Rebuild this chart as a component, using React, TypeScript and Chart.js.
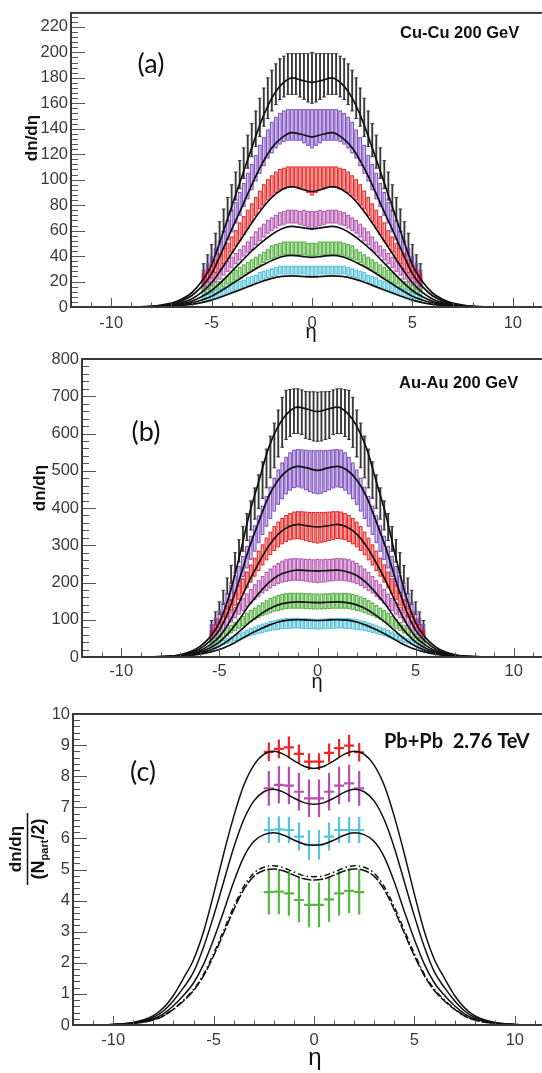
import React, { useEffect, useRef } from 'react';
import { Chart, registerables } from 'chart.js';

Chart.register(...registerables);

// ---------------- data ----------------
const etaData = [-5.4,-5.2,-5.0,-4.8,-4.6,-4.4,-4.2,-4.0,-3.8,-3.6,-3.4,-3.2,-3.0,-2.8,-2.6,-2.4,-2.2,-2.0,-1.8,-1.6,-1.4,-1.2,-1.0,-0.8,-0.6,-0.4,-0.2,0,0.2,0.4,0.6,0.8,1.0,1.2,1.4,1.6,1.8,2.0,2.2,2.4,2.6,2.8,3.0,3.2,3.4,3.6,3.8,4.0,4.2,4.4,4.6,4.8,5.0,5.2,5.4];
const etaCurve = [-12,-10,-9,-8,-7.5,-7,-6.5,-6,-5.5,-5,-4.5,-4,-3.5,-3,-2.5,-2,-1.5,-1,-0.5,0,0.5,1,1.5,2,2.5,3,3.5,4,4.5,5,5.5,6,6.5,7,7.5,8,9,10,12];
const etaPbPb = [-2.25,-1.75,-1.25,-0.75,-0.25,0.25,0.75,1.25,1.75,2.25];
const pbEtaHalfBin = [0.25,0.25,0.25,0.25,0.25,0.25,0.25,0.25,0.25,0.25];

const xTickValues = [-10,-5,0,5,10];
const cuYTicks = [0,20,40,60,80,100,120,140,160,180,200,220];
const auYTicks = [0,100,200,300,400,500,600,700,800];
const pbYTicks = [0,1,2,3,4,5,6,7,8,9,10];

// Cu-Cu 200 GeV data (dn/deta) and errors
const cuBlack = [27,34,42,50,59,68,77,86,95,104,113,122,131,140,149,157,164,170,175,179,181,183,183,183,182,181,180,180,180,181,182,183,183,183,181,179,175,170,164,157,149,140,131,122,113,104,95,86,77,68,59,50,42,34,27];
const cuBlackErr = [7,7,7,8,8,9,9,10,11,11,12,13,13,14,15,15,16,16,16,16,16,16,16,16,17,18,19,20,19,18,17,16,16,16,16,16,16,16,16,15,15,14,13,13,12,11,11,10,9,9,8,8,7,7,7];
const cuPurple = [23,28,34,40,46,53,60,67,74,81,88,95,102,109,116,122,128,133,137,140,142,143,143,143,143,142,141,140,141,142,143,143,143,143,142,140,137,133,128,122,116,109,102,95,88,81,74,67,60,53,46,40,34,28,23];
const cuPurpleErr = [6,6,6,6,6,7,7,8,8,9,9,10,10,10,11,11,11,12,12,12,12,12,12,12,12,13,14,15,14,13,12,12,12,12,12,12,12,12,11,11,11,10,10,10,9,9,8,8,7,7,6,6,6,6,6];
const cuRed = [21,24,28,32,36,40,44,49,54,59,64,69,74,79,84,88,92,95,98,100,101,102,102,102,102,101,100,99,100,101,102,102,102,102,101,100,98,95,92,88,84,79,74,69,64,59,54,49,44,40,36,32,28,24,21];
const cuRedErr = [5,5,5,5,6,6,6,6,6,7,7,7,7,7,7,8,8,8,8,8,8,8,8,8,8,9,10,11,10,9,8,8,8,8,8,8,8,8,8,8,7,7,7,7,7,7,6,6,6,6,6,5,5,5,5];
const cuMagenta = [15,17,20,23,26,29,32,35,38,41,44,47,50,54,57,60,63,65,67,69,70,71,71,71,70,70,69,68,69,70,70,71,71,71,70,69,67,65,63,60,57,54,50,47,44,41,38,35,32,29,26,23,20,17,15];
const cuMagentaErr = [3,3,3,3, 4,4,4,4,4,4,4,4, 5,5,5,5,5,5,5,5,5,5,5,5,5, 6,6,7,6,6, 5,5,5,5,5,5,5,5,5,5,5,5,5, 4,4,4,4,4,4,4,4, 3,3,3,3];
const cuGreen = [12,13,14,16,17,19,21,23,25,27,29,31,33,35,37,39,41,43,44,45,46,46,46,46,46,46,45,45,45,46,46,46,46,46,46,45,44,43,41,39,37,35,33,31,29,27,25,23,21,19,17,16,14,13,12];
const cuGreenErr = [3,3,3,3,3,3,3, 4,4,4,4,4,4,4,4,4,4, 5,5,5,5,5,5,5,5,5,5,5,5,5,5,5,5,5,5,5,5,5, 4,4,4,4,4,4,4,4,4,4, 3,3,3,3,3,3,3];
const cuCyan = [7,8,9,10,11,12,13,15,16,17,18,20,21,22,24,25,26,27,28,29,29,29,29,29,29,29,28,28,28,29,29,29,29,29,29,29,28,27,26,25,24,22,21,20,18,17,16,15,13,12,11,10,9,8,7];
const cuCyanErr = [3,3,3,3,3,3,3,3,3,3,3,3,3,3,3,3,3,3,3,3,3,3,3,3,3,3,4,4,4,3,3,3,3,3,3,3,3,3,3,3,3,3,3,3,3,3,3,3,3,3,3,3,3,3,3];

// Cu-Cu model curves
const cuCurve1 = [0,0,0.1,0.6,1.5,3,6,11,20,33,55,79,102,125,147,164,175,180,178,176.5,178,180,175,164,147,125,102,79,55,33,20,11,6,3,1.5,0.6,0.1,0,0];
const cuCurve2 = [0,0,0.08,0.5,1.2,2.4,4.8,8.8,16,26,43,61,78,96,112,125,133,137,135.5,133.7,135.5,137,133,125,112,96,78,61,43,26,16,8.8,4.8,2.4,1.2,0.5,0.08,0,0];
const cuCurve3 = [0,0,0.06,0.4,0.9,1.8,3.5,6.3,11.5,19,30,42,54,66,77,86,92,94.5,92.5,90.6,92.5,94.5,92,86,77,66,54,42,30,19,11.5,6.3,3.5,1.8,0.9,0.4,0.06,0,0];
const cuCurve4 = [0,0,0.05,0.3,0.7,1.3,2.5,4.5,8,13,20,28,36,44,51,57,61.5,63.3,62.3,61.4,62.3,63.3,61.5,57,51,44,36,28,20,13,8,4.5,2.5,1.3,0.7,0.3,0.05,0,0];
const cuCurve5 = [0,0,0.04,0.2,0.5,1,1.8,3.2,5.5,8.5,13,18,23,28,32.5,36.5,39.5,40.6,39.8,39,39.8,40.6,39.5,36.5,32.5,28,23,18,13,8.5,5.5,3.2,1.8,1,0.5,0.2,0.04,0,0];
const cuCurve6 = [0,0,0.03,0.15,0.35,0.7,1.2,2.1,3.5,5.4,8,11,14,17,20,22.5,24,24.5,24,23.6,24,24.5,24,22.5,20,17,14,11,8,5.4,3.5,2.1,1.2,0.7,0.35,0.15,0.03,0,0];

// Au-Au 200 GeV data
const auBlack = [80,104,131,160,191,222,253,285,317,349,380,412,444,475,506,537,568,600,630,650,655,660,660,657,650,648,646,645,646,648,650,657,660,660,655,650,630,600,568,537,506,475,444,412,380,349,317,285,253,222,191,160,131,104,80];
const auBlackErr = [18,17,17,19,21,24,27,30,33,36,39,42,45,49,52,56,60,63,67,66,63,60,60,60,63,64,66,66,66,64,63,60,60,60,63,66,67,63,60,56,52,49,45,42,39,36,33,30,27,24,21,19,17,17,18];
const auPurple = [71,87,106,127,149,172,195,218,243,268,293,318,343,367,391,414,436,456,473,487,498,505,507,505,502,499,497,496,497,499,502,505,507,505,498,487,473,456,436,414,391,367,343,318,293,268,243,218,195,172,149,127,106,87,71];
const auPurpleErr = [16,17,18,19,20,21,23,25,27,29,31,34,36,38,40,42,44,46,48,49,50,50,50,51,53,55,57,58,57,55,53,51,50,50,50,49,48,46,44,42,40,38,36,34,31,29,27,25,23,21,20,19,18,17,16];
const auRed = [60,75,90,106,122,139,156,173,190,207,224,241,258,274,290,305,318,329,338,345,350,353,354,353,351,349,348,347,348,349,351,353,354,353,350,345,338,329,318,305,290,274,258,241,224,207,190,173,156,139,122,106,90,75,60];
const auRedErr = [11,11,12,13,14,15,17,18,20,21,23,24,26,27,29,30,32,33,34,35,35,36,36,37,38,39,40,41,40,39,38,37,36,36,35,35,34,33,32,30,29,27,26,24,23,21,20,18,17,15,14,13,12,11,11];
const auMagenta = [50,60,71,83,95,107,119,130,141,152,163,174,184,194,203,211,218,224,229,232,234,235,235,234,233,232,231,231,231,232,233,234,235,235,234,232,229,224,218,211,203,194,184,174,163,152,141,130,119,107,95,83,71,60,50];
const auMagentaErr = [9,9,10,11,12,13,14,15,16,17,18,20,21,22,24,25,26,27,28,29,29,29,29,29,29,30,30,31,30,30,29,29,29,29,29,29,28,27,26,25,24,22,21,20,18,17,16,15,14,13,12,11,10,9,9];
const auGreen = [37,44,52,61,68,75,82,89,96,103,110,116,122,128,133,138,142,145,148,150,151,151,151,151,150,150,149,149,149,150,150,151,151,151,151,150,148,145,142,138,133,128,122,116,110,103,96,89,82,75,68,61,52,44,37];
const auGreenErr = [8,8,8,9,10,10,11,12,13,14,15,15,16,17,18,19,19, 20,20,20,20,20, 20,20,20,20,20, 20,20,20,20,20, 20,20,20,20,20, 20, 19,19,18,17,16,15,15,14,13,12,11,10,10,9,8,8,8];
const auCyan = [24,29,34,39,43,47,51,55,59,63,67,70,74,77,80,83,85,87,89,90,90,91,91,90,90,89,89,88,89,89,90,90,91,91,90,90,89,87,85,83,80,77,74,70,67,63,59,55,51,47,43,39,34,29,24];
const auCyanErr = [5,5,6,6,6,7,7,8,8,9,9,10,10,11,11,12,12, 13,13,13,13,13, 13,13,13,13,13, 13,13,13,13,13, 13,13,13,13,13, 13, 12,12,11,11,10,10,9,9,8,8,7,7,6,6,6,5,5];

// Au-Au model curves
const auCurve1 = [0,0.02,0.2,1,2.5,6,14,28,52,92,165,265,378,470,560,620,656,671,665,659,665,671,656,620,560,470,378,265,165,92,52,28,14,6,2.5,1,0.2,0.02,0];
const auCurve2 = [0,0.02,0.15,0.8,2,4.8,11,22,42,72,128,204,290,362,430,475,502,512,507,501,507,512,502,475,430,362,290,204,128,72,42,22,11,4.8,2,0.8,0.15,0.02,0];
const auCurve3 = [0,0.01,0.12,0.6,1.6,3.8,8.5,17,32,54,93,145,202,252,297,330,349,356,352,349,352,356,349,330,297,252,202,145,93,54,32,17,8.5,3.8,1.6,0.6,0.12,0.01,0];
const auCurve4 = [0,0.01,0.1,0.5,1.3,3,6.5,13,24,40,66,100,138,170,199,219,229,233,232,231,232,233,229,219,199,170,138,100,66,40,24,13,6.5,3,1.3,0.5,0.1,0.01,0];
const auCurve5 = [0,0.01,0.08,0.4,1,2.3,5,10,18,29,46,68,91,111,128,140,146,148,147,146,147,148,146,140,128,111,91,68,46,29,18,10,5,2.3,1,0.4,0.08,0.01,0];
const auCurve6 = [0,0.01,0.06,0.3,0.8,1.8,3.8,7.5,13,20,31,45,60,73,85,94,99,100,99,98,99,100,99,94,85,73,60,45,31,20,13,7.5,3.8,1.8,0.8,0.3,0.06,0.01,0];

// Pb+Pb 2.76 TeV data (dn/deta / (Npart/2))
const pbRed = [8.78,8.88,8.93,8.72,8.47,8.47,8.75,8.9,8.98,8.77];
const pbRedErr = [0.3,0.3,0.35,0.3,0.27,0.27,0.3,0.3,0.35,0.3];
const pbMagenta = [7.61,7.72,7.7,7.5,7.29,7.29,7.5,7.7,7.77,7.61];
const pbMagentaErr = [0.56,0.6,0.6,0.6,0.6,0.6,0.6,0.6,0.6,0.56];
const pbCyan = [6.27,6.29,6.27,6.06,5.79,5.79,6.06,6.27,6.27,6.27];
const pbCyanErr = [0.42,0.42,0.42,0.45,0.48,0.48,0.45,0.42,0.42,0.42];
const pbGreen = [4.27,4.29,4.23,4.02,3.86,3.86,4.04,4.23,4.31,4.27];
const pbGreenErr = [0.72,0.72,0.72,0.72,0.72,0.72,0.72,0.72,0.72,0.72];

// Pb+Pb model curves
const pbCurve1 = [0,0.02,0.08,0.3,0.55,0.95,1.5,2.1,3.0,4.2,5.5,6.7,7.7,8.35,8.7,8.8,8.7,8.5,8.32,8.25,8.32,8.5,8.7,8.8,8.7,8.35,7.7,6.7,5.5,4.2,3.0,2.1,1.5,0.95,0.55,0.3,0.08,0.02,0];
const pbCurve2 = [0,0.02,0.07,0.25,0.45,0.78,1.2,1.7,2.5,3.5,4.6,5.7,6.6,7.2,7.5,7.58,7.48,7.3,7.15,7.1,7.15,7.3,7.48,7.58,7.5,7.2,6.6,5.7,4.6,3.5,2.5,1.7,1.2,0.78,0.45,0.25,0.07,0.02,0];
const pbCurve3 = [0,0.02,0.06,0.2,0.36,0.62,0.95,1.35,1.95,2.75,3.65,4.6,5.4,5.9,6.12,6.18,6.1,5.95,5.82,5.78,5.82,5.95,6.1,6.18,6.12,5.9,5.4,4.6,3.65,2.75,1.95,1.35,0.95,0.62,0.36,0.2,0.06,0.02,0];
const pbCurve4 = [0,0.01,0.05,0.16,0.29,0.5,0.77,1.1,1.58,2.22,2.95,3.7,4.35,4.78,4.97,5.02,4.95,4.82,4.7,4.66,4.7,4.82,4.95,5.02,4.97,4.78,4.35,3.7,2.95,2.22,1.58,1.1,0.77,0.5,0.29,0.16,0.05,0.01,0];
const pbCurve5 = [0,0.01,0.05,0.17,0.3,0.52,0.8,1.14,1.63,2.29,3.04,3.8,4.45,4.88,5.07,5.12,5.05,4.92,4.8,4.77,4.8,4.92,5.05,5.12,5.07,4.88,4.45,3.8,3.04,2.29,1.63,1.14,0.8,0.52,0.3,0.17,0.05,0.01,0];

// ---------------- styling ----------------
const SANS = "'Liberation Sans', Arial, sans-serif";
const COL = {
  black: 'rgba(40,40,40,0.92)',
  purple: '#7b4cc0',
  red: '#f01c1c',
  magenta: '#b24fae',
  green: '#4fad3b',
  cyan: '#4cbfd7',
};

function pts(xs: number[], ys: number[]) {
  return xs.map((x, i) => ({ x, y: ys[i] }));
}

function dataSet(vals: number[], errs: number[], color: string, style: string, xs = etaData, xErr?: number[]) {
  return {
    data: pts(xs, vals),
    showLine: false,
    pointRadius: 0,
    yErr: errs,
    xErr,
    errColor: color,
    errStyle: style,
  };
}

function curveSet(vals: number[], dash: number[] = [], width = 1.7) {
  return {
    data: pts(etaCurve, vals),
    showLine: true,
    pointRadius: 0,
    borderColor: '#111',
    borderWidth: width,
    borderDash: dash,
    cubicInterpolationMode: 'monotone',
    fill: false,
  };
}

// ---------------- plugins ----------------
const errorBarPlugin = {
  id: 'errorBars',
  beforeDatasetsDraw(chart: any) {
    const { ctx, chartArea: a } = chart;
    const xs = chart.scales.x;
    const ys = chart.scales.y;
    ctx.save();
    ctx.beginPath();
    ctx.rect(a.left, a.top, a.right - a.left, a.bottom - a.top);
    ctx.clip();
    for (const ds of chart.data.datasets as any[]) {
      if (!ds.yErr) continue;
      ctx.strokeStyle = ds.errColor;
      ctx.fillStyle = ds.errColor;
      ds.data.forEach((p: any, i: number) => {
        const px = xs.getPixelForValue(p.x);
        const yT = ys.getPixelForValue(p.y + ds.yErr[i]);
        const yB = ys.getPixelForValue(p.y - ds.yErr[i]);
        if (ds.errStyle === 'box') {
          ctx.globalAlpha = 0.3;
          ctx.fillRect(px - 1.3, yT, 2.6, yB - yT);
          ctx.globalAlpha = 0.95;
          ctx.lineWidth = 1.1;
          ctx.strokeRect(px - 1.3, yT, 2.6, yB - yT);
          ctx.globalAlpha = 1;
        } else if (ds.errStyle === 'bar') {
          ctx.lineWidth = 1.9;
          ctx.beginPath();
          ctx.moveTo(px, yT);
          ctx.lineTo(px, yB);
          ctx.stroke();
          ctx.lineWidth = 1;
          ctx.beginPath();
          ctx.moveTo(px - 1.8, yT);
          ctx.lineTo(px + 1.8, yT);
          ctx.moveTo(px - 1.8, yB);
          ctx.lineTo(px + 1.8, yB);
          ctx.stroke();
        } else if (ds.errStyle === 'cross') {
          const xl = xs.getPixelForValue(p.x - ds.xErr[i]);
          const xr = xs.getPixelForValue(p.x + ds.xErr[i]);
          const py = ys.getPixelForValue(p.y);
          ctx.lineWidth = 2.2;
          ctx.beginPath();
          ctx.moveTo(px, yT);
          ctx.lineTo(px, yB);
          ctx.moveTo(xl, py);
          ctx.lineTo(xr, py);
          ctx.stroke();
        }
      });
    }
    ctx.restore();
  },
};

function axesPlugin(spec: any) {
  return {
    id: 'rootAxes',
    afterDraw(chart: any) {
      const { ctx, chartArea: a } = chart;
      const xs = chart.scales.x;
      const ys = chart.scales.y;
      ctx.save();
      ctx.strokeStyle = '#555';
      ctx.lineWidth = 1;
      ctx.beginPath();
      const nx = Math.round((xs.max - xs.min) / spec.xMinor);
      for (let k = 0; k <= nx; k++) {
        const v = xs.min + k * spec.xMinor;
        const px = Math.round(xs.getPixelForValue(v)) + 0.5;
        const major = xTickValues.some((t) => Math.abs(t - v) < 1e-6);
        const len = major ? 9 : 4.5;
        ctx.moveTo(px, a.bottom);
        ctx.lineTo(px, a.bottom - len);
      }
      const ny = Math.floor((ys.max - ys.min) / spec.yMinor + 1e-6);
      for (let k = 0; k <= ny; k++) {
        const v = ys.min + k * spec.yMinor;
        const py = Math.round(ys.getPixelForValue(v)) + 0.5;
        const major = spec.yTicks.some((t: number) => Math.abs(t - v) < 1e-6);
        const len = major ? 14 : 7;
        ctx.moveTo(a.left, py);
        ctx.lineTo(a.left + len, py);
      }
      ctx.stroke();
      ctx.strokeStyle = '#3a3a3a';
      ctx.lineWidth = 2;
      ctx.strokeRect(a.left, a.top, a.right - a.left, a.bottom - a.top);
      ctx.restore();
      ctx.save();
      spec.annotate(ctx);
      ctx.restore();
    },
  };
}

// ---------------- text ----------------
function drawRotated(ctx: CanvasRenderingContext2D, text: string, x: number, y: number, font: string) {
  ctx.save();
  ctx.translate(x, y);
  ctx.rotate(-Math.PI / 2);
  ctx.font = font;
  ctx.fillStyle = '#111';
  ctx.textAlign = 'center';
  ctx.textBaseline = 'middle';
  ctx.fillText(text, 0, 0);
  ctx.restore();
}

function drawLabel(ctx: CanvasRenderingContext2D, text: string, x: number, y: number, font: string, align: CanvasTextAlign = 'center', baseline: CanvasTextBaseline = 'middle') {
  ctx.font = font;
  ctx.fillStyle = '#111';
  ctx.textAlign = align;
  ctx.textBaseline = baseline;
  ctx.fillText(text, x, y);
}

const annotateA = (ctx: CanvasRenderingContext2D) => {
  drawLabel(ctx, '(a)', 151, 64, '27px Lato');
  drawLabel(ctx, 'Cu-Cu 200 GeV', 400, 33, `bold 16.5px ${SANS}`, 'left');
  drawRotated(ctx, 'dn/dη', 32, 138, `bold 17px ${SANS}`);
  drawLabel(ctx, 'η', 311, 338, `20px ${SANS}`, 'center', 'alphabetic');
};

const annotateB = (ctx: CanvasRenderingContext2D) => {
  drawLabel(ctx, '(b)', 146, 92, '27px Lato');
  drawLabel(ctx, 'Au-Au 200 GeV', 399, 43, `bold 16.5px ${SANS}`, 'left');
  drawRotated(ctx, 'dn/dη', 40, 148, `bold 17px ${SANS}`);
  drawLabel(ctx, 'η', 317, 348, `20px ${SANS}`, 'center', 'alphabetic');
};

const annotateC = (ctx: CanvasRenderingContext2D) => {
  drawLabel(ctx, '(c)', 143, 82, '27px Lato');
  drawLabel(ctx, 'Pb+Pb  2.76 TeV', 384, 52, 'bold 20px Lato', 'left');
  drawLabel(ctx, 'η', 315, 375, `24px ${SANS}`, 'center', 'alphabetic');
  // fraction y-title
  ctx.save();
  ctx.translate(27.5, 159);
  ctx.rotate(-Math.PI / 2);
  ctx.fillStyle = '#111';
  ctx.textBaseline = 'middle';
  ctx.textAlign = 'center';
  ctx.font = `bold 17px ${SANS}`;
  ctx.fillText('dn/dη', 0, -11);
  ctx.strokeStyle = '#111';
  ctx.lineWidth = 1.5;
  ctx.beginPath();
  ctx.moveTo(-36, 0);
  ctx.lineTo(36, 0);
  ctx.stroke();
  const big = `bold 18px ${SANS}`;
  const small = `bold 11px ${SANS}`;
  ctx.font = big;
  const w1 = ctx.measureText('(N').width;
  const w3 = ctx.measureText('/2)').width;
  ctx.font = small;
  const w2 = ctx.measureText('part').width;
  let x0 = -(w1 + w2 + w3) / 2;
  ctx.textAlign = 'left';
  ctx.font = big;
  ctx.fillText('(N', x0, 12);
  x0 += w1;
  ctx.font = small;
  ctx.fillText('part', x0, 17);
  x0 += w2;
  ctx.font = big;
  ctx.fillText('/2)', x0, 12);
  ctx.restore();
};

// ---------------- panels ----------------
const panels = [
  {
    key: 'a', top: 0, w: 575, h: 345, left: 71, right: 553, padTop: 4, bottom: 307,
    yMax: 231, yTicks: cuYTicks, yMinor: 4, xMinor: 1, xPad: 7, annotate: annotateA,
    datasets: [
      curveSet(cuCurve1), curveSet(cuCurve2), curveSet(cuCurve3),
      curveSet(cuCurve4), curveSet(cuCurve5), curveSet(cuCurve6),
      dataSet(cuBlack, cuBlackErr, COL.black, 'bar'),
      dataSet(cuPurple, cuPurpleErr, COL.purple, 'box'),
      dataSet(cuRed, cuRedErr, COL.red, 'box'),
      dataSet(cuMagenta, cuMagentaErr, COL.magenta, 'box'),
      dataSet(cuGreen, cuGreenErr, COL.green, 'box'),
      dataSet(cuCyan, cuCyanErr, COL.cyan, 'box'),
    ],
  },
  {
    key: 'b', top: 340, w: 575, h: 355, left: 82, right: 553, padTop: 19, bottom: 317,
    yMax: 800, yTicks: auYTicks, yMinor: 20, xMinor: 1, xPad: 5, annotate: annotateB,
    datasets: [
      curveSet(auCurve1), curveSet(auCurve2), curveSet(auCurve3),
      curveSet(auCurve4), curveSet(auCurve5), curveSet(auCurve6),
      dataSet(auBlack, auBlackErr, COL.black, 'bar'),
      dataSet(auPurple, auPurpleErr, COL.purple, 'box'),
      dataSet(auRed, auRedErr, COL.red, 'box'),
      dataSet(auMagenta, auMagentaErr, COL.magenta, 'box'),
      dataSet(auGreen, auGreenErr, COL.green, 'box'),
      dataSet(auCyan, auCyanErr, COL.cyan, 'box'),
    ],
  },
  {
    key: 'c', top: 690, w: 575, h: 383, left: 73, right: 555, padTop: 24, bottom: 335,
    yMax: 10, yTicks: pbYTicks, yMinor: 0.2, xMinor: 1, xPad: 6, annotate: annotateC,
    datasets: [
      curveSet(pbCurve1, [], 1.5), curveSet(pbCurve2, [], 1.5), curveSet(pbCurve3, [], 1.5),
      curveSet(pbCurve4, [10, 2], 1.5), curveSet(pbCurve5, [6, 3, 1.5, 3], 1.5),
      dataSet(pbRed, pbRedErr, '#f0242a', 'cross', etaPbPb, pbEtaHalfBin),
      dataSet(pbMagenta, pbMagentaErr, '#b64fb0', 'cross', etaPbPb, pbEtaHalfBin),
      dataSet(pbCyan, pbCyanErr, '#55c4dc', 'cross', etaPbPb, pbEtaHalfBin),
      dataSet(pbGreen, pbGreenErr, '#58b645', 'cross', etaPbPb, pbEtaHalfBin),
    ],
  },
];

function buildConfig(spec: any): any {
  const tickFont = { family: SANS, size: 16.5 };
  return {
    type: 'scatter',
    data: { datasets: spec.datasets },
    options: {
      animation: false,
      responsive: false,
      events: [],
      layout: { padding: { left: 0, top: spec.padTop, right: spec.w - spec.right, bottom: 0 } },
      plugins: { legend: { display: false }, tooltip: { enabled: false } },
      scales: {
        x: {
          type: 'linear',
          min: -12,
          max: 12,
          afterBuildTicks: (s: any) => { s.ticks = xTickValues.map((v) => ({ value: v })); },
          afterFit: (s: any) => { s.height = spec.h - spec.bottom; },
          grid: { display: false, drawTicks: false },
          border: { display: false },
          ticks: { padding: spec.xPad, color: '#3a3a3a', font: tickFont, maxRotation: 0, autoSkip: false, callback: (v: any) => String(v) },
        },
        y: {
          type: 'linear',
          min: 0,
          max: spec.yMax,
          afterBuildTicks: (s: any) => { s.ticks = spec.yTicks.map((v: number) => ({ value: v })); },
          afterFit: (s: any) => { s.width = spec.left; },
          grid: { display: false, drawTicks: false },
          border: { display: false },
          ticks: { padding: 3, color: '#3a3a3a', font: tickFont, autoSkip: false, callback: (v: any) => String(v) },
        },
      },
    },
    plugins: [errorBarPlugin, axesPlugin(spec)],
  };
}

function Panel({ spec }: { spec: any }) {
  const ref = useRef<HTMLCanvasElement>(null);
  useEffect(() => {
    const chart = new Chart(ref.current as HTMLCanvasElement, buildConfig(spec));
    return () => chart.destroy();
  }, [spec]);
  return (
    <canvas
      ref={ref}
      width={spec.w}
      height={spec.h}
      style={{ position: 'absolute', left: 0, top: spec.top, width: spec.w, height: spec.h }}
    />
  );
}

export default function App() {
  return (
    <div style={{ position: 'absolute', left: 0, top: 0, width: 542, height: 1073, overflow: 'hidden', background: '#fff' }}>
      {panels.map((p) => (
        <Panel key={p.key} spec={p} />
      ))}
    </div>
  );
}
